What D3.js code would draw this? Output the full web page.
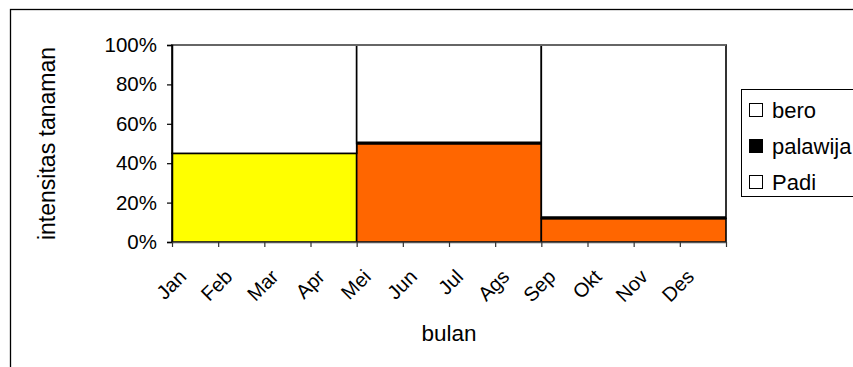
<!DOCTYPE html>
<html><head><meta charset="utf-8">
<script src="https://cdn.jsdelivr.net/npm/d3@7"></script>
<style>
html,body{margin:0;padding:0;background:#fff;}
svg{display:block;font-family:"Liberation Sans",Arial,sans-serif;}
</style></head>
<body><svg id="c" width="853" height="367"></svg>
<script>
const months = ["Jan","Feb","Mar","Apr","Mei","Jun","Jul","Ags","Sep","Okt","Nov","Des"];
const padi     = [45,45,45,45,0,0,0,0,0,0,0,0];
const palawija = [0,0,0,0,50,50,50,50,12,12,12,12];
const bero     = [55,55,55,55,50,50,50,50,88,88,88,88];
const yTicks = [0,20,40,60,80,100];
const legendLabels = ["bero","palawija","Padi"];

const svg = d3.select("#c");
const fill = {padi:"#ffff00", palawija:"#ff6600", bero:"#ffffff"};
const legendFill = ["#ffffff","#000000","#ffffff"];

// outer chart border (continues past right/bottom edge)
svg.append("rect").attr("x",10.5).attr("y",9.5).attr("width",900).attr("height",400)
  .attr("fill","none").attr("stroke","#000").attr("stroke-width",1.3);

const x = d3.scaleLinear().domain([0,12]).range([172,726]);
const y = d3.scaleLinear().domain([0,100]).range([242,45]);

const rows = months.map((m,i)=>({m, padi:padi[i], palawija:palawija[i], bero:bero[i]}));
const keys = ["padi","palawija","bero"];
const stack = d3.stack().keys(keys)(rows);

function runs(s){
  const out=[]; let cur=null;
  s.forEach((d,i)=>{
    const v=[d[0],d[1]];
    if(v[1]-v[0]<=0){cur=null;return;}
    if(cur && cur.y0===v[0] && cur.y1===v[1]){cur.end=i;}
    else {cur={start:i,end:i,y0:v[0],y1:v[1]}; out.push(cur);}
  });
  return out;
}
const g = svg.append("g");
stack.forEach(s=>{
  const k=s.key;
  runs(s).forEach(r=>{
    g.append("rect")
      .attr("x",x(r.start)).attr("y",y(r.y1))
      .attr("width",x(r.end+1)-x(r.start)).attr("height",y(r.y0)-y(r.y1))
      .attr("fill",fill[k]).attr("stroke","#000").attr("stroke-width",1.6);
  });
});
stack.filter(s=>s.key==="palawija").forEach(s=>{
  runs(s).forEach(r=>{
    g.append("line").attr("x1",x(r.start)).attr("x2",x(r.end+1))
      .attr("y1",y(r.y1)-0.5).attr("y2",y(r.y1)-0.5)
      .attr("stroke","#000").attr("stroke-width",3.2);
  });
});
svg.append("line").attr("x1",x(0)).attr("x2",x(12)).attr("y1",y(100)).attr("y2",y(100))
  .attr("stroke","#666").attr("stroke-width",2);

// y axis
const ya = svg.append("g").attr("transform",`translate(${x(0)},0)`)
  .call(d3.axisLeft(y).tickValues(yTicks).tickFormat(d=>d+"%").tickSize(5).tickPadding(10));
ya.select(".domain").attr("stroke","#000").attr("stroke-width",1.5);
ya.selectAll(".tick line").attr("stroke","#000").attr("stroke-width",1.2);
ya.selectAll(".tick text").attr("font-size",20.5).attr("font-family","Liberation Sans, Arial, sans-serif").attr("fill","#000");

// x axis
const xa = svg.append("g").attr("transform",`translate(0,${y(0)})`)
  .call(d3.axisBottom(x).tickValues(d3.range(0,13)).tickFormat(i=>months[i]||"").tickSize(5).tickSizeOuter(0));
xa.select(".domain").attr("stroke","#555").attr("stroke-width",1.5);
xa.selectAll(".tick line").attr("stroke","#333").attr("stroke-width",1.2);
xa.selectAll(".tick text").attr("font-size",20).attr("font-family","Liberation Sans, Arial, sans-serif").attr("fill","#000")
  .attr("text-anchor","end").attr("dy",0).attr("y",0)
  .attr("transform","translate(15,36) rotate(-45)");

// axis titles
svg.append("text").attr("x",(x(0)+x(12))/2).attr("y",341).attr("text-anchor","middle")
  .attr("font-size",22.5).text("bulan");
svg.append("text").attr("transform",`translate(55,${(y(0)+y(100))/2}) rotate(-90)`)
  .attr("text-anchor","middle").attr("font-size",23).text("intensitas tanaman");

// legend
const lg = svg.append("g");
lg.append("rect").attr("x",741.5).attr("y",89.5).attr("width",130).attr("height",107)
  .attr("fill","#fff").attr("stroke","#000").attr("stroke-width",1);
legendLabels.forEach((t,i)=>{
  const cy = 110 + i*36;
  lg.append("rect").attr("x",749.5).attr("y",cy-6.5).attr("width",13).attr("height",13)
    .attr("fill",legendFill[i]).attr("stroke","#000").attr("stroke-width",1);
  lg.append("text").attr("x",772).attr("y",cy+8).attr("font-size",22).text(t);
});
</script></body></html>
